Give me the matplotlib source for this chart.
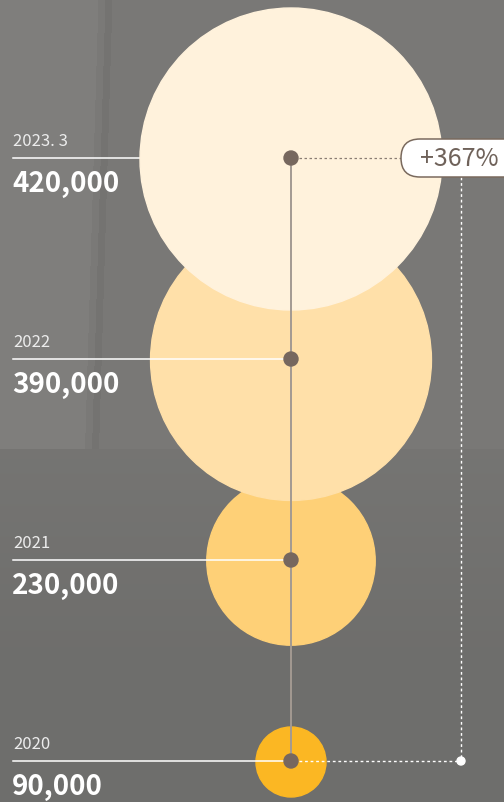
import numpy as np
import matplotlib.pyplot as plt
from matplotlib.patches import Circle, FancyBboxPatch

plt.rcParams['font.family'] = ['Noto Sans CJK KR', 'DejaVu Sans']

# 데이터
years = ['2020', '2021', '2022', '2023. 3']
values = [90000, 230000, 390000, 420000]
growth_label = '+367%'

colors = ['#fbb723', '#fed077', '#ffe0a9', '#fff2dc']

W, H = 504, 803
fig = plt.figure(figsize=(W / 100, H / 100), dpi=100)
ax = fig.add_axes([0, 0, 1, 1])
ax.set_xlim(0, W)
ax.set_ylim(H, 0)
ax.axis('off')

# 배경 (회색 벽 느낌)
yy, xx = np.mgrid[0:H, 0:W]
bg = np.full((H, W), 0.455)
bg += 0.015 * (yy < 450)
bg -= 0.025 * (yy > 450) * np.clip((yy - 450) / 200, 0, 1)
edge = 105 - yy * 0.03
wall = (xx < edge) & (yy < 450)
bg[wall] += 0.025
stripe = (np.abs(xx - edge) < 7) & (yy < 450)
bg[stripe] -= 0.02
rgb = np.dstack([bg + 0.005, bg + 0.003, bg - 0.005])
ax.imshow(np.clip(rgb, 0, 1), extent=(0, W, H, 0), zorder=0,
          interpolation='bilinear')

cx = 291
cy = [762 - 201 * i for i in range(len(values))]
vmin, vmax = min(values), max(values)
rmin, rmax = 35, 151


def radius(v):
    return rmin + (v - vmin) / (vmax - vmin) * (rmax - rmin)


for i, (yr, v) in enumerate(zip(years, values)):
    top = i == len(values) - 1
    ax.add_patch(Circle((cx, cy[i] + 1), radius(v), color=colors[i],
                        zorder=3 if top else 1))
    ax.plot([13, cx], [cy[i], cy[i]], color='white', lw=1.1, zorder=2)
    ax.text(13, cy[i] - 9, yr, color='#ececec', fontsize=12,
            fontweight='light', va='bottom', ha='left', zorder=6)
    ax.text(12, cy[i] + 11, f'{v:,}', color='white', fontsize=20,
            fontweight='bold', va='top', ha='left', zorder=6)

# 세로 연결선과 점
ax.plot([cx, cx], [cy[0], cy[-1]], color='#a39a92', lw=1.4, zorder=4)
for y in cy:
    ax.add_patch(Circle((cx, y), 7, color='#76675e', zorder=5))

# 증가율 표시
right_x = 461
ax.plot([cx + 8, 401], [cy[-1], cy[-1]], color='#8a7d73', lw=0.9,
        ls=(0, (2, 2)), zorder=4)
ax.plot([cx + 8, right_x], [cy[0], cy[0]], color='white', lw=1,
        ls=(0, (2, 2)), zorder=4)
ax.plot([right_x, right_x], [178, cy[0]], color='white', lw=1,
        ls=(0, (2, 2)), zorder=4)
ax.add_patch(Circle((right_x, cy[0]), 4, color='white', zorder=5))

ax.add_patch(FancyBboxPatch((401, 140), 130, 38,
                            boxstyle='round,pad=0,rounding_size=19',
                            fc='white', ec='#7a6a5e', lw=1.1, zorder=6))
ax.text(420, cy[-1], growth_label, color='#6f625a', fontsize=18,
        fontweight='light', va='center', ha='left', zorder=7)

fig.savefig('out.png', dpi=100)
